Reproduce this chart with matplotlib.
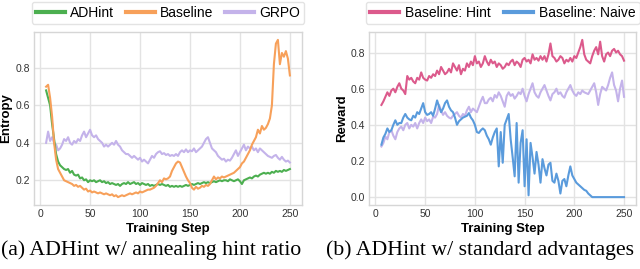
import numpy as np
import matplotlib
matplotlib.use("Agg")
import matplotlib.pyplot as plt

steps = np.arange(6, 251, 2)

# (a) entropy
adhint_entropy = [
    0.68, 0.64, 0.60, 0.50, 0.42, 0.34, 0.30, 0.28, 0.27, 0.26,
    0.255, 0.26, 0.24, 0.25, 0.23, 0.225, 0.23, 0.21, 0.215, 0.20,
    0.205, 0.19, 0.20, 0.195, 0.20, 0.19, 0.195, 0.20, 0.19, 0.195,
    0.185, 0.19, 0.18, 0.185, 0.18, 0.175, 0.18, 0.17, 0.18, 0.185,
    0.18, 0.19, 0.18, 0.185, 0.19, 0.18, 0.185, 0.175, 0.185, 0.18,
    0.175, 0.18, 0.17, 0.175, 0.17, 0.175, 0.18, 0.175, 0.18, 0.175,
    0.17, 0.175, 0.165, 0.17, 0.165, 0.17, 0.165, 0.17, 0.165, 0.17,
    0.175, 0.17, 0.175, 0.18, 0.175, 0.18, 0.185, 0.18, 0.185, 0.19,
    0.185, 0.19, 0.185, 0.19, 0.195, 0.19, 0.195, 0.20, 0.195, 0.20,
    0.20, 0.195, 0.205, 0.20, 0.195, 0.20, 0.205, 0.195, 0.18, 0.20,
    0.205, 0.21, 0.215, 0.21, 0.22, 0.225, 0.22, 0.23, 0.235, 0.24,
    0.235, 0.24, 0.235, 0.245, 0.24, 0.25, 0.245, 0.25, 0.245, 0.255,
    0.25, 0.255, 0.26,
]
baseline_entropy = [
    0.70, 0.71, 0.64, 0.54, 0.40, 0.31, 0.26, 0.24, 0.22, 0.20,
    0.195, 0.19, 0.185, 0.18, 0.17, 0.175, 0.165, 0.17, 0.16, 0.15,
    0.155, 0.14, 0.145, 0.135, 0.14, 0.135, 0.13, 0.135, 0.13, 0.125,
    0.13, 0.125, 0.12, 0.125, 0.115, 0.12, 0.11, 0.115, 0.12, 0.115,
    0.12, 0.125, 0.13, 0.125, 0.13, 0.135, 0.13, 0.14, 0.135, 0.14,
    0.145, 0.15, 0.15, 0.155, 0.16, 0.17, 0.185, 0.20, 0.19, 0.21,
    0.205, 0.21, 0.22, 0.25, 0.27, 0.29, 0.30, 0.295, 0.27, 0.245,
    0.22, 0.20, 0.185, 0.16, 0.15, 0.165, 0.155, 0.16, 0.17, 0.165,
    0.175, 0.17, 0.18, 0.20, 0.22, 0.205, 0.215, 0.21, 0.22, 0.215,
    0.22, 0.225, 0.23, 0.235, 0.24, 0.25, 0.26, 0.27, 0.29, 0.30,
    0.32, 0.34, 0.36, 0.39, 0.41, 0.43, 0.47, 0.45, 0.49, 0.47,
    0.48, 0.50, 0.53, 0.60, 0.82, 0.93, 0.95, 0.82, 0.88, 0.86,
    0.89, 0.85, 0.76,
]
grpo_entropy = [
    0.40, 0.46, 0.41, 0.43, 0.40, 0.39, 0.36, 0.37, 0.39, 0.42,
    0.41, 0.43, 0.40, 0.39, 0.41, 0.40, 0.42, 0.41, 0.44, 0.46,
    0.43, 0.45, 0.47, 0.44, 0.43, 0.44, 0.42, 0.41, 0.40, 0.38,
    0.39, 0.38, 0.39, 0.40, 0.39, 0.41, 0.39, 0.38, 0.36, 0.35,
    0.34, 0.34, 0.33, 0.32, 0.33, 0.32, 0.31, 0.32, 0.30, 0.31,
    0.30, 0.29, 0.31, 0.33, 0.32, 0.34, 0.35, 0.355, 0.34, 0.345,
    0.335, 0.34, 0.33, 0.335, 0.33, 0.34, 0.33, 0.35, 0.36, 0.35,
    0.365, 0.35, 0.36, 0.355, 0.37, 0.35, 0.36, 0.37, 0.38, 0.40,
    0.42, 0.43, 0.40, 0.37, 0.36, 0.35, 0.33, 0.32, 0.31, 0.315,
    0.30, 0.31, 0.305, 0.32, 0.34, 0.36, 0.33, 0.35, 0.37, 0.39,
    0.36, 0.38, 0.37, 0.38, 0.36, 0.37, 0.35, 0.37, 0.36, 0.35,
    0.34, 0.33, 0.325, 0.32, 0.33, 0.335, 0.32, 0.31, 0.325, 0.31,
    0.30, 0.305, 0.295,
]

# (b) reward
hint_reward = [
    0.51, 0.53, 0.555, 0.58, 0.56, 0.59, 0.60, 0.58, 0.61, 0.63,
    0.60, 0.59, 0.57, 0.67, 0.65, 0.66, 0.64, 0.63, 0.66, 0.65,
    0.69, 0.66, 0.65, 0.645, 0.67, 0.66, 0.68, 0.67, 0.70, 0.68,
    0.72, 0.70, 0.68, 0.69, 0.71, 0.69, 0.74, 0.72, 0.70, 0.73,
    0.68, 0.71, 0.70, 0.74, 0.72, 0.75, 0.73, 0.78, 0.74, 0.75,
    0.72, 0.74, 0.78, 0.75, 0.73, 0.76, 0.74, 0.75, 0.72, 0.74,
    0.73, 0.71, 0.72, 0.74, 0.73, 0.75, 0.76, 0.73, 0.75, 0.74,
    0.72, 0.76, 0.77, 0.75, 0.76, 0.74, 0.79, 0.76, 0.77, 0.755,
    0.78, 0.76, 0.78, 0.75, 0.79, 0.85, 0.78, 0.77, 0.75, 0.76,
    0.78, 0.77, 0.74, 0.76, 0.75, 0.77, 0.75, 0.78, 0.77, 0.80,
    0.83, 0.87, 0.79, 0.76, 0.75, 0.74, 0.78, 0.81, 0.83, 0.79,
    0.86, 0.78, 0.75, 0.79, 0.80, 0.78, 0.81, 0.82, 0.80, 0.81,
    0.79, 0.78, 0.755,
]
adhint_reward = [
    0.28, 0.30, 0.335, 0.32, 0.36, 0.37, 0.34, 0.32, 0.36, 0.38,
    0.39, 0.37, 0.40, 0.41, 0.38, 0.40, 0.39, 0.41, 0.38, 0.41,
    0.43, 0.41, 0.44, 0.42, 0.43, 0.41, 0.445, 0.44, 0.46, 0.51,
    0.48, 0.455, 0.47, 0.45, 0.44, 0.435, 0.45, 0.46, 0.47, 0.45,
    0.44, 0.46, 0.45, 0.48, 0.50, 0.47, 0.49, 0.48, 0.47, 0.50,
    0.53, 0.555, 0.52, 0.52, 0.54, 0.55, 0.53, 0.565, 0.55, 0.58,
    0.56, 0.53, 0.50, 0.56, 0.58, 0.56, 0.57, 0.545, 0.56, 0.58,
    0.57, 0.60, 0.56, 0.53, 0.57, 0.60, 0.63, 0.58, 0.56, 0.55,
    0.58, 0.60, 0.62, 0.59, 0.56, 0.535, 0.57, 0.58, 0.60, 0.57,
    0.58, 0.56, 0.55, 0.58, 0.60, 0.62, 0.59, 0.57, 0.56, 0.58,
    0.57, 0.59, 0.58, 0.575, 0.57, 0.59, 0.61, 0.63, 0.58, 0.51,
    0.57, 0.61, 0.60, 0.59, 0.62, 0.66, 0.69, 0.62, 0.59, 0.53,
    0.60, 0.645, 0.555,
]
naive_reward = [
    0.29, 0.33, 0.35, 0.38, 0.36, 0.37, 0.40, 0.425, 0.40, 0.41,
    0.41, 0.44, 0.46, 0.44, 0.43, 0.425, 0.45, 0.44, 0.47, 0.46,
    0.49, 0.52, 0.47, 0.455, 0.46, 0.47, 0.45, 0.49, 0.535, 0.50,
    0.47, 0.49, 0.52, 0.535, 0.50, 0.48, 0.47, 0.44, 0.40, 0.42,
    0.43, 0.44, 0.445, 0.45, 0.465, 0.44, 0.425, 0.40, 0.36, 0.355,
    0.37, 0.38, 0.37, 0.34, 0.32, 0.29, 0.33, 0.36, 0.38, 0.17,
    0.36, 0.19, 0.40, 0.43, 0.46, 0.32, 0.22, 0.115, 0.41, 0.08,
    0.30, 0.37, 0.06, 0.32, 0.01, 0.30, 0.22, 0.13, 0.25, 0.18,
    0.08, 0.21, 0.16, 0.12, 0.18, 0.19, 0.09, 0.08, 0.13, 0.09,
    0.02, 0.09, 0.10, 0.06, 0.12, 0.17, 0.12, 0.10, 0.08, 0.07,
    0.06, 0.05, 0.04, 0.035, 0.02, 0.01, 0.0, 0.0, 0.0, 0.0,
    0.0, 0.0, 0.0, 0.0, 0.0, 0.0, 0.0, 0.0, 0.0, 0.0,
    0.0, 0.0, 0.0,
]

green = "#4caf50"
orange = "#f7a05a"
lavender = "#c4b3ea"
pink = "#dc5a8c"
blue = "#5a9bdc"

plt.rcParams["font.family"] = ["Liberation Sans", "DejaVu Sans"]

fig = plt.figure(figsize=(6.4, 2.69), dpi=100)
ax1 = fig.add_axes([0.053, 0.238, 0.419, 0.643])
ax2 = fig.add_axes([0.577, 0.238, 0.417, 0.643])


def style(ax, ylabel):
    ax.grid(True, color="#e3e3e3", linewidth=1.0)
    ax.set_axisbelow(True)
    for s in ax.spines.values():
        s.set_color("#d6d6d6")
        s.set_linewidth(1.0)
    ax.tick_params(length=0, labelsize=7.5, colors="#333333", pad=3)
    ax.set_xlabel("Training Step", fontsize=9.5, fontweight="bold", labelpad=2.5)
    ax.set_ylabel(ylabel, fontsize=9.5, fontweight="bold", labelpad=2)
    ax.set_xticks([0, 50, 100, 150, 200, 250])


def legend(ax, handles, labels, ncol, colsp):
    leg = ax.legend(handles, labels, ncol=ncol, loc="lower center",
                    bbox_to_anchor=(0.5, 1.046), borderaxespad=0, fontsize=10,
                    frameon=True, fancybox=True, edgecolor="#dddddd",
                    handlelength=2.1, handletextpad=0.4, borderpad=0.3,
                    columnspacing=colsp)
    for ln in leg.get_lines():
        ln.set_linewidth(3)
    return leg


lw = 1.5
ax1.plot(steps, grpo_entropy, color=lavender, lw=lw, label="GRPO", zorder=2)
ax1.plot(steps, adhint_entropy, color=green, lw=lw, label="ADHint", zorder=3)
ax1.plot(steps, baseline_entropy, color=orange, lw=lw, label="Baseline", zorder=4)
style(ax1, "Entropy")
ax1.set_yticks([0.2, 0.4, 0.6, 0.8])
h, l = ax1.get_legend_handles_labels()
order = [1, 2, 0]
legend(ax1, [h[i] for i in order], [l[i] for i in order], 3, 0.8)

ax2.plot(steps, hint_reward, color=pink, lw=lw, label="Baseline: Hint", zorder=3)
ax2.plot(steps, naive_reward, color=blue, lw=lw, label="Baseline: Naive", zorder=4)
ax2.plot(steps, adhint_reward, color=lavender, lw=lw, zorder=2)
style(ax2, "Reward")
ax2.set_yticks([0.0, 0.2, 0.4, 0.6, 0.8])
h, l = ax2.get_legend_handles_labels()
legend(ax2, h, l, 2, 1.0)

fig.text(0.236, 0.07, "(a) ADHint w/ annealing hint ratio", ha="center", va="center",
         fontsize=15.7, family=["Liberation Serif", "DejaVu Serif"])
fig.text(0.75, 0.07, "(b) ADHint w/ standard advantages", ha="center", va="center",
         fontsize=15.7, family=["Liberation Serif", "DejaVu Serif"])

fig.savefig("out.png", dpi=100)
